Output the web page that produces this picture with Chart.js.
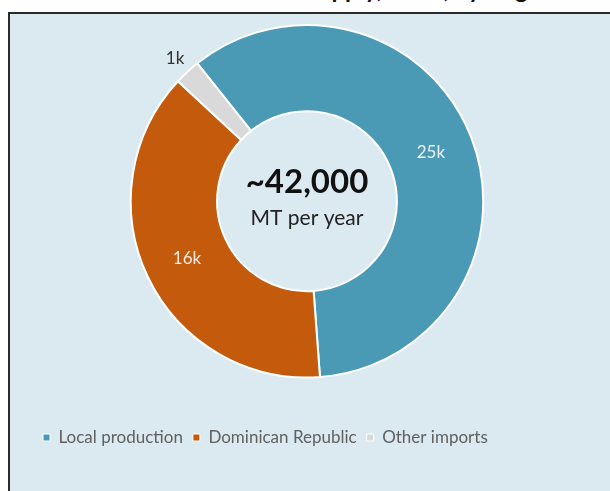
<!DOCTYPE html>
<html>
<head>
<meta charset="utf-8">
<script src="https://cdn.jsdelivr.net/npm/chart.js@4"></script>
<style>
  html, body { margin: 0; padding: 0; background: #fff; overflow: hidden; }
  body { width: 610px; height: 491px; position: relative; font-family: Lato, "Open Sans", sans-serif; }
  #title {
    position: absolute; right: 57px; top: -26.5px;
    font: bold 24px Lato, sans-serif; color: #111; white-space: nowrap;
  }
  #panel {
    position: absolute; left: 8px; top: 12px; width: 620px; height: 500px;
    background: #dbe9f0; border: 2px solid #2a2a2a;
  }
  #wrap { position: absolute; left: 0; top: 0; width: 610px; height: 491px; }
</style>
</head>
<body>
<div id="title">Plantain supply, 2023, by origin.</div>
<div id="panel"></div>
<div id="wrap"><canvas id="supplyChart"></canvas></div>
<script>
// thousand MT per year
const sources = ["Local production", "Dominican Republic", "Other imports"];
const volumes = [25, 16, 1];
const colors = ["#4a9ab6", "#c45a0b", "#d9d9d9"];

let supplyChart;

/* ========= LABELS ========= */
const sliceLabels = {
  id: "sliceLabels",
  afterDatasetsDraw(chart) {
    const { ctx } = chart;
    const meta = chart.getDatasetMeta(0);
    ctx.save();
    ctx.textAlign = "center";
    ctx.textBaseline = "middle";
    ctx.font = "17px Lato, sans-serif";
    meta.data.forEach((arc, i) => {
      const p = arc.getProps(["x", "y", "startAngle", "endAngle", "innerRadius", "outerRadius"], true);
      const mid = (p.startAngle + p.endAngle) / 2;
      const small = volumes[i] < 3;
      const r = small ? p.outerRadius + 18 : (p.innerRadius + p.outerRadius) / 2;
      ctx.fillStyle = small ? "#333" : "rgba(255,255,255,0.88)";
      ctx.fillText(volumes[i] + "k", p.x + Math.cos(mid) * r, p.y + Math.sin(mid) * r);
    });
    ctx.restore();
  }
};

const centerText = {
  id: "centerText",
  afterDatasetsDraw(chart) {
    const { ctx } = chart;
    const arc = chart.getDatasetMeta(0).data[0];
    if (!arc) return;
    const total = volumes.reduce((a, b) => a + b, 0) * 1000;
    ctx.save();
    ctx.textAlign = "center";
    ctx.textBaseline = "middle";
    ctx.fillStyle = "#111";
    ctx.font = "bold 33px Lato, sans-serif";
    ctx.fillText("~" + total.toLocaleString("en-US"), arc.x, arc.y - 19);
    ctx.fillStyle = "#222";
    ctx.font = "21px Lato, sans-serif";
    ctx.fillText("MT per year", arc.x, arc.y + 17);
    ctx.restore();
  }
};

/* ========= INIT ========= */
function initSupply() {
  supplyChart = new Chart(document.getElementById("supplyChart"), {
    type: "doughnut",
    data: {
      labels: sources,
      datasets: [{
        data: volumes,
        backgroundColor: colors,
        borderColor: "#ffffff",
        borderWidth: 2
      }]
    },
    options: {
      responsive: true,
      maintainAspectRatio: false,
      animation: false,
      cutout: "51%",
      rotation: -38.5,
      layout: { padding: { left: 33, right: 29, top: 24, bottom: 35 } },
      plugins: {
        tooltip: { enabled: false },
        legend: {
          position: "bottom",
          align: "start",
          title: { display: true, text: " ", font: { size: 1, lineHeight: 1 }, padding: { top: 39.5, bottom: 0 } },
          labels: {
            boxWidth: 7,
            boxHeight: 7,
            padding: 10,
            color: "#606060",
            font: { family: "Lato, sans-serif", size: 17 },
            generateLabels(chart) {
              return Chart.overrides.doughnut.plugins.legend.labels.generateLabels(chart)
                .map(l => ({ ...l, lineWidth: 1 }));
            }
          }
        }
      }
    },
    plugins: [sliceLabels, centerText]
  });
}

window.onload = () => {
  initSupply();
};
</script>
</body>
</html>
